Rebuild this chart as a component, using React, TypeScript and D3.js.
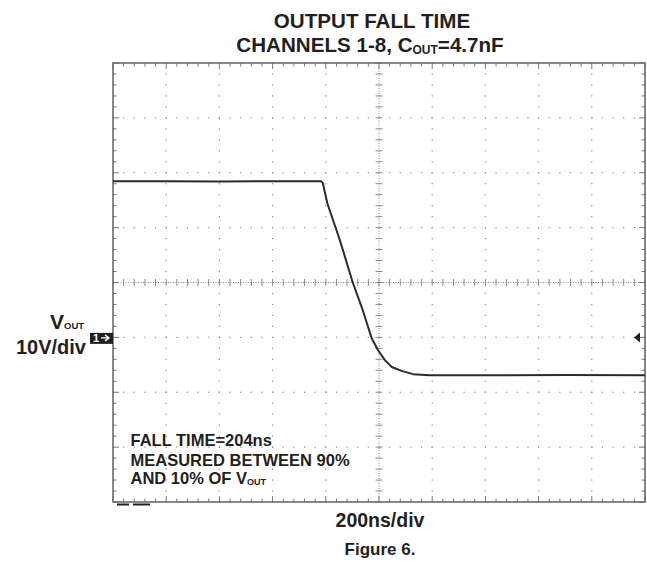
import React from "react";
import * as d3 from "d3";

// ---- data ----
const timeNs = [0, 200, 400, 600, 782, 789, 806, 853, 901, 939, 972, 996, 1022, 1048, 1085, 1128, 1191, 1400, 1700, 2000];
const voltsV = [28.45, 28.45, 28.4, 28.45, 28.45, 28.1, 24.4, 17.7, 10.05, 4.95, -0.1, -2.3, -4.15, -5.4, -6.1, -6.7, -6.9, -6.9, -6.85, -6.9];
const xMajorTicks = d3.range(0, 2001, 200);
const yMajorTicks = d3.range(-30, 51, 10);
const titleLines = ["OUTPUT FALL TIME", "CHANNELS 1-8, C"];
const noteLines = ["FALL TIME=204ns", "MEASURED BETWEEN 90%", "AND 10% OF V"];

const W = 647, H = 562;
const L = 113, R = 645, T = 63, B = 502;
const FONT = "'Liberation Sans', Arial, Helvetica, sans-serif";

export default function App() {
  const x = d3.scaleLinear().domain([0, 2000]).range([L, R]);
  const y = d3.scaleLinear().domain([-30, 50]).range([B, T]);
  const xMinor = d3.range(0, 2000.1, 40);
  const yMinor = d3.range(-30, 50.1, 2);
  const line = d3.line<number>().x((_, i) => x(timeNs[i])).y((v) => y(v));
  const xc = x(1000), yc = y(10);
  const grid = "#8a8a8a";

  const dots: React.ReactNode[] = [];
  xMajorTicks.slice(1, -1).forEach((t) => {
    if (t === 1000) return;
    yMinor.forEach((v, j) => {
      dots.push(<rect key={`vx${t}-${j}`} x={x(t) - 0.6} y={y(v) - 0.6} width={1.2} height={1.2} fill={grid} />);
    });
  });
  yMajorTicks.slice(1, -1).forEach((v) => {
    if (v === 10) return;
    xMinor.forEach((t, j) => {
      dots.push(<rect key={`hy${v}-${j}`} x={x(t) - 0.6} y={y(v) - 0.6} width={1.2} height={1.2} fill={grid} />);
    });
  });

  const ticks: React.ReactNode[] = [];
  xMinor.forEach((t, j) => {
    ticks.push(<line key={`cx${j}`} x1={x(t)} x2={x(t)} y1={yc - 3.5} y2={yc + 3.5} stroke={grid} strokeWidth={1} />);
    const big = j % 5 === 0;
    ticks.push(<line key={`tt${j}`} x1={x(t)} x2={x(t)} y1={T} y2={T + (big ? 6 : 3.5)} stroke="#777" strokeWidth={1} />);
    ticks.push(<line key={`bt${j}`} x1={x(t)} x2={x(t)} y1={B} y2={B - (big ? 6 : 3.5)} stroke="#777" strokeWidth={1} />);
  });
  yMinor.forEach((v, j) => {
    ticks.push(<line key={`cy${j}`} x1={xc - 3.5} x2={xc + 3.5} y1={y(v)} y2={y(v)} stroke={grid} strokeWidth={1} />);
    const big = j % 5 === 0;
    ticks.push(<line key={`lt${j}`} x1={L} x2={L + (big ? 6 : 3.5)} y1={y(v)} y2={y(v)} stroke="#777" strokeWidth={1} />);
    ticks.push(<line key={`rt${j}`} x1={R} x2={R - (big ? 6 : 3.5)} y1={y(v)} y2={y(v)} stroke="#777" strokeWidth={1} />);
  });

  const gy = y(0);

  return (
    <svg width={W} height={H} style={{ position: "absolute", left: 0, top: 0, background: "#fff" }} fontFamily={FONT}>
      {/* title */}
      <text x={372} y={28} textAnchor="middle" fontSize={20.6} fontWeight="bold" fill="#231f20">{titleLines[0]}</text>
      <text x={370} y={51.5} textAnchor="middle" fontSize={20.6} fontWeight="bold" fill="#231f20">
        {titleLines[1]}
        <tspan fontSize={12} dy={2}>OUT</tspan>
        <tspan dy={-2}>=4.7nF</tspan>
      </text>

      {/* grid */}
      {dots}
      <line x1={xc} x2={xc} y1={T} y2={B} stroke={grid} strokeWidth={1} strokeDasharray="1,1.5" />
      <line x1={L} x2={R} y1={yc} y2={yc} stroke={grid} strokeWidth={1} strokeDasharray="1,1.5" />
      {ticks}
      <rect x={L} y={T} width={R - L} height={B - T} fill="none" stroke="#6b6b6b" strokeWidth={1.6} />

      {/* trace */}
      <path d={line(voltsV) || ""} fill="none" stroke="#2b2b2b" strokeWidth={2} strokeLinejoin="round" />

      {/* ground marker */}
      <rect x={90} y={gy - 4.5} width={23} height={11} fill="#231f20" />
      <text x={93} y={gy + 5} fontSize={11} fontWeight="bold" fill="#fff">1</text>
      <path d={`M101,${gy + 0.5} L108,${gy + 0.5}`} stroke="#fff" strokeWidth={1.3} />
      <path d={`M105,${gy - 2.5} L109,${gy + 0.5} L105,${gy + 3.5}`} fill="none" stroke="#fff" strokeWidth={1.3} />

      {/* right level arrow */}
      <path d={`M634,${gy} L640,${gy - 5} L640,${gy + 5} Z`} fill="#231f20" />

      {/* left label */}
      <text x={50} y={329} fontSize={21} fontWeight="bold" fill="#231f20">
        V<tspan fontSize={9.5} dy={0}>OUT</tspan>
      </text>
      <text x={86} y={354} textAnchor="end" fontSize={20} fontWeight="bold" fill="#231f20">10V/div</text>

      {/* notes */}
      <text x={130.5} y={446} fontSize={16.5} fontWeight="bold" fill="#231f20">{noteLines[0]}</text>
      <text x={130.5} y={465.5} fontSize={16.5} fontWeight="bold" fill="#231f20">{noteLines[1]}</text>
      <text x={130.5} y={483.5} fontSize={16.5} fontWeight="bold" fill="#231f20">
        {noteLines[2]}
        <tspan fontSize={9} dy={1}>OUT</tspan>
      </text>

      {/* bottom marks */}
      <line x1={117} x2={129} y1={504.5} y2={504.5} stroke="#231f20" strokeWidth={2} />
      <line x1={133} x2={150} y1={504.5} y2={504.5} stroke="#231f20" strokeWidth={2} />

      <text x={380} y={527} textAnchor="middle" fontSize={19.5} fontWeight="bold" fill="#231f20">200ns/div</text>
      <text x={380} y={555} textAnchor="middle" fontSize={17} fontWeight="bold" fill="#231f20">Figure 6.</text>
    </svg>
  );
}
